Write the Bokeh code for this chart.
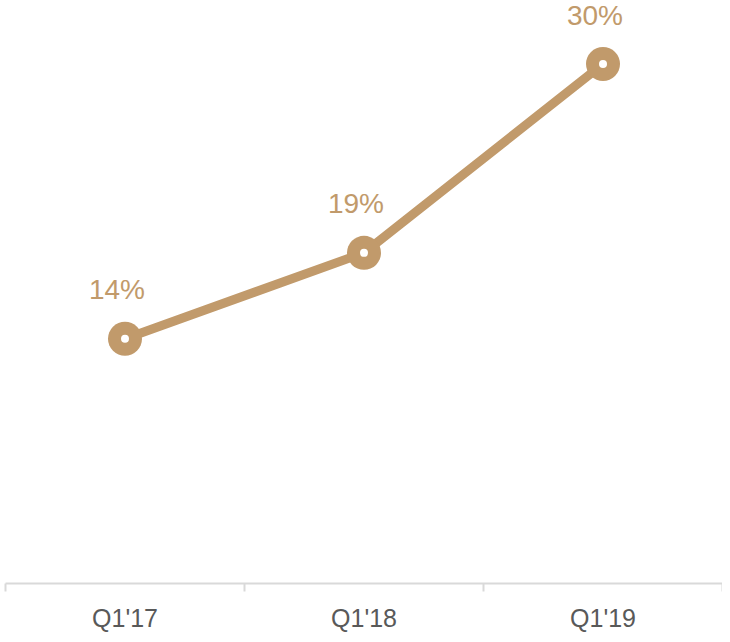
from bokeh.plotting import figure
from bokeh.models import FixedTicker, Range1d, ColumnDataSource
from bokeh.core.properties import value
from bokeh.embed import file_html
from bokeh.resources import INLINE

categories = ["Q1'17", "Q1'18", "Q1'19"]
values = [14, 19, 30]
labels = ["14%", "19%", "30%"]

GOLD = "#C19A6B"

xs = list(range(len(categories)))
src = ColumnDataSource(dict(x=xs, y=values, lab=labels))

p = figure(width=722, height=634, output_backend="svg", toolbar_location=None,
           x_range=Range1d(-0.5, len(categories) - 0.5), y_range=Range1d(-0.26, 33.7),
           min_border_left=5, min_border_right=0, min_border_top=0, min_border_bottom=0)

p.line("x", "y", source=src, line_color=GOLD, line_width=9)
p.scatter("x", "y", source=src, size=34, fill_color=GOLD, line_color=None)
p.scatter("x", "y", source=src, size=8, fill_color="white", line_color=None)
p.text("x", "y", text="lab", source=src, x_offset=-8, y_offset=-49,
       text_align="center", text_baseline="middle", text_color=GOLD,
       text_font_size="28px", text_font=value("Liberation Sans"))

p.yaxis.visible = False
p.grid.visible = False
p.outline_line_color = None

ax = p.xaxis[0]
ax.ticker = FixedTicker(ticks=xs, minor_ticks=[i - 0.5 for i in range(len(categories) + 1)])
ax.major_label_overrides = {i: c for i, c in enumerate(categories)}
ax.axis_line_color = "#D9D9D9"
ax.axis_line_width = 2
ax.major_tick_line_color = None
ax.major_tick_out = 0
ax.major_tick_in = 0
ax.minor_tick_line_color = "#D9D9D9"
ax.minor_tick_line_width = 2
ax.minor_tick_out = 8
ax.minor_tick_in = 0
ax.major_label_standoff = 12
ax.major_label_text_font = "Liberation Sans"
ax.major_label_text_font_size = "25px"
ax.major_label_text_color = "#595959"

open("out.html", "w").write(file_html(p, INLINE))
